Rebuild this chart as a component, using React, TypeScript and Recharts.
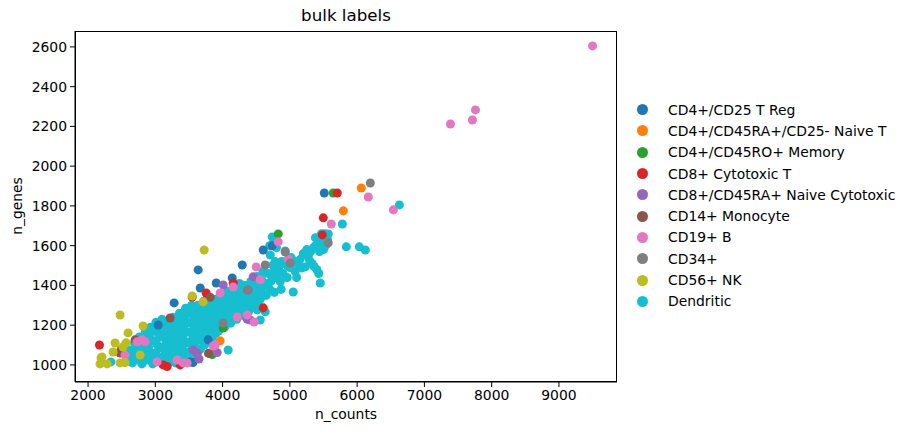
import { ScatterChart, Scatter, XAxis, YAxis } from 'recharts';

const categories = [
  'CD4+/CD25 T Reg',
  'CD4+/CD45RA+/CD25- Naive T',
  'CD4+/CD45RO+ Memory',
  'CD8+ Cytotoxic T',
  'CD8+/CD45RA+ Naive Cytotoxic',
  'CD14+ Monocyte',
  'CD19+ B',
  'CD34+',
  'CD56+ NK',
  'Dendritic',
];

const colors = [
  '#1f77b4', '#ff7f0e', '#2ca02c', '#d62728', '#9467bd',
  '#8c564b', '#e377c2', '#7f7f7f', '#bcbd22', '#17becf',
];

const xTicks = [2000, 3000, 4000, 5000, 6000, 7000, 8000, 9000];
const yTicks = [1000, 1200, 1400, 1600, 1800, 2000, 2200, 2400, 2600];

// [n_counts, n_genes]
const tReg = [
  [5512, 1865], [4604, 1578], [4738, 1599], [4292, 1503], [3637, 1478], [4143, 1437],
  [3905, 1412], [3667, 1387], [3280, 1312], [3042, 1201], [3518, 1015], [3786, 1126],
  [3560, 1012],
];
const naiveT = [[6062, 1890], [5795, 1775], [3964, 1121]];
const memory = [[5645, 1865], [4827, 1659], [3845, 1052], [4009, 1186]];
const cytotoxic = [
  [5705, 1865], [5497, 1740], [5482, 1654], [4604, 1287], [4158, 1412], [3756, 1362],
  [3548, 1342], [2170, 1100], [3116, 1000], [3369, 1000], [3176, 992],
];
const naiveCyto = [
  [4455, 1443], [4009, 1402], [4380, 1377], [4410, 1226], [3920, 1062], [3562, 1075],
  [3622, 1060], [3650, 1030], [4366, 1230],
];
const monocyte = [[2476, 1060], [2700, 1126], [3220, 1236], [3815, 1340], [3790, 1058], [2490, 1075]];
const bCells = [
  [9500, 2605], [7387, 2212], [7714, 2232], [7759, 2283], [6539, 1780], [6166, 1845],
  [5616, 1709], [4827, 1619], [4976, 1533], [4500, 1493], [4560, 1428], [4158, 1392],
  [3964, 1362], [4366, 1251], [4470, 1216], [4217, 1241], [3890, 1100], [2848, 1116],
  [2729, 1116], [2550, 1050], [3027, 1015], [3473, 1010], [3324, 1025], [3414, 1010],
  [3860, 1095], [2803, 1126],
];
const cd34 = [
  [6196, 1915], [5571, 1614], [4931, 1568], [5005, 1513], [4634, 1503], [4366, 1377],
  [4009, 1211],
];
const nk = [
  [3726, 1578], [2476, 1251], [2818, 1196], [2595, 1161], [2402, 1110], [2372, 1065],
  [2208, 1040], [2178, 1005], [2283, 1005], [2550, 1012], [2774, 1050], [2520, 1090],
  [2565, 1111], [3548, 1347], [3711, 1317], [2193, 1035], [2476, 1010],
];
const dendritic = [
  [2340, 1015],
  [2600, 1020], [2610, 1075], [2640, 1040],
  [2660, 1010], [2680, 1050], [2690, 1110], [2700, 1080], [2720, 1125],
  [2730, 1030], [2750, 1085], [2760, 1140], [2780, 1020], [2790, 1105],
  [2800, 1005], [2810, 1060], [2830, 1120], [2850, 1165], [2840, 1040], [2870, 1150],
  [2880, 1025], [2900, 1090], [2910, 1145], [2930, 1190], [2880, 1080], [2920, 1040],
  [2940, 1125], [2950, 1170],
  [2960, 1005], [2970, 1060], [2990, 1120], [3000, 1170], [3010, 1215],
  [3020, 1050], [3030, 1100], [3040, 1160], [3060, 1205],
  [3050, 1030], [3060, 1085], [3070, 1140], [3090, 1190], [3100, 1230],
  [3110, 1040], [3120, 1090], [3140, 1150], [3150, 1200],
  [3130, 1010], [3150, 1060], [3160, 1115], [3170, 1165], [3190, 1215],
  [3200, 1010], [3200, 1070], [3210, 1125], [3220, 1175], [3230, 1225],
  [3220, 1035], [3230, 1090], [3240, 1140], [3250, 1190], [3270, 1240],
  [3280, 1020], [3280, 1070], [3290, 1125], [3300, 1180], [3310, 1235],
  [3300, 1010], [3310, 1060], [3320, 1110], [3330, 1160], [3340, 1210], [3360, 1260],
  [3370, 1010], [3360, 1080], [3370, 1130], [3380, 1180], [3390, 1225],
  [3390, 1040], [3400, 1090], [3410, 1140], [3420, 1190], [3430, 1240], [3450, 1285],
  [3440, 1060], [3450, 1110], [3460, 1165], [3470, 1210], [3480, 1260],
  [3480, 1020], [3490, 1065], [3500, 1115], [3510, 1165], [3520, 1215], [3530, 1265], [3540, 1300],
  [3550, 1030], [3550, 1090], [3560, 1140], [3570, 1185], [3570, 1235], [3590, 1280],
  [3580, 1050], [3590, 1100], [3600, 1150], [3610, 1200], [3620, 1250], [3630, 1300],
  [3640, 1070], [3640, 1125], [3650, 1175], [3660, 1225], [3670, 1270],
  [3670, 1080], [3680, 1130], [3690, 1180], [3700, 1230], [3710, 1280], [3720, 1320],
  [3730, 1100], [3730, 1150], [3740, 1200], [3750, 1250], [3760, 1295],
  [3760, 1110], [3770, 1160], [3780, 1210], [3790, 1260], [3800, 1300], [3810, 1335],
  [3820, 1125], [3820, 1180], [3830, 1230], [3840, 1275], [3850, 1320],
  [3850, 1140], [3860, 1190], [3870, 1240], [3880, 1285], [3890, 1330],
  [3900, 1160], [3910, 1210], [3920, 1250], [3930, 1295],
  [3940, 1170], [3950, 1215], [3960, 1265], [3970, 1310], [3980, 1350],
  [3990, 1190], [4000, 1235], [4010, 1280], [4020, 1320],
  [4030, 1190], [4040, 1240], [4050, 1290], [4060, 1335], [4070, 1370],
  [4080, 1215], [4090, 1260], [4100, 1300], [4110, 1345],
  [4120, 1210], [4130, 1260], [4140, 1310], [4150, 1360], [4160, 1390],
  [4170, 1245], [4180, 1295], [4190, 1340], [4200, 1370],
  [4210, 1230], [4220, 1280], [4230, 1330], [4240, 1380], [4250, 1410],
  [4260, 1260], [4270, 1305], [4280, 1355],
  [4300, 1250], [4310, 1300], [4320, 1350], [4330, 1400],
  [4350, 1280], [4360, 1330], [4370, 1390],
  [4390, 1270], [4400, 1320], [4410, 1370], [4420, 1420],
  [4440, 1300], [4450, 1340], [4460, 1395],
  [4480, 1300], [4490, 1350], [4500, 1400], [4510, 1445],
  [4530, 1320], [4540, 1370], [4550, 1420],
  [4560, 1330], [4570, 1380], [4580, 1430], [4600, 1470],
  [4610, 1350], [4620, 1400],
  [4650, 1350], [4660, 1410], [4680, 1460],
  [4083, 1075], [4515, 1277], [4560, 1226], [4634, 1267],
  [4700, 1380], [4740, 1460], [4780, 1520], [4700, 1600], [4760, 1620], [4800, 1590],
  [4708, 1553], [4738, 1644], [4770, 1365], [4720, 1420], [4750, 1500], [4800, 1440],
  [4820, 1480], [4857, 1418], [4880, 1520], [4900, 1460], [4931, 1573], [4960, 1440],
  [4850, 1500], [4870, 1380], [4920, 1510], [4960, 1500], [5020, 1540], [5060, 1520],
  [5000, 1490], [5050, 1367], [5080, 1470], [5130, 1500], [5180, 1488], [5229, 1493],
  [5100, 1440], [5150, 1530], [5200, 1560], [5250, 1580],
  [5270, 1543], [5300, 1520], [5330, 1510], [5360, 1495], [5400, 1480], [5430, 1460],
  [5452, 1412], [5274, 1553], [5310, 1570], [5350, 1590], [5380, 1600], [5408, 1639],
  [5380, 1640], [5440, 1570], [5500, 1640], [5520, 1660],
  [5420, 1600], [5450, 1620], [5480, 1640], [5500, 1580], [5530, 1600], [5560, 1630],
  [5571, 1659], [5470, 1660], [5780, 1709], [5839, 1594], [6032, 1594], [6122, 1578],
  [6628, 1805],
];

const groups = [tReg, naiveT, memory, cytotoxic, naiveCyto, monocyte, bCells, cd34, nk, dendritic];
const toPoints = (arr: number[][]) => arr.map(([x, y]) => ({ x, y }));

// dendritic drawn first so the other groups sit on top like in the original
const drawOrder = [9, 0, 1, 2, 3, 4, 5, 6, 7, 8];

const font = '"DejaVu Sans", sans-serif';
const tickStyle = { fill: '#000', fontSize: 13.9, fontFamily: font };

function LegendBox() {
  return (
    <div style={{ position: 'absolute', left: 629, top: 99, fontFamily: font, fontSize: 13.9, color: '#000' }}>
      {categories.map((c, i) => (
        <div key={c} style={{ height: 21.3, display: 'flex', alignItems: 'center', whiteSpace: 'nowrap' }}>
          <span
            style={{
              display: 'inline-block', width: 11, height: 11, borderRadius: '50%',
              background: colors[i], marginLeft: 8, marginRight: 20,
            }}
          />
          <span>{c}</span>
        </div>
      ))}
    </div>
  );
}

export default function App() {
  return (
    <div style={{ position: 'absolute', left: 0, top: 0, width: 915, height: 434, background: '#fff' }}>
      <ScatterChart width={915} height={434} margin={{ top: 31, right: 298, bottom: 22, left: 15 }}>
        <XAxis
          type="number" dataKey="x" domain={[1806, 9863]} ticks={xTicks}
          allowDataOverflow height={30} tick={tickStyle} tickSize={5} tickMargin={3}
          stroke="#000" tickLine={{ stroke: '#000' }}
        />
        <YAxis
          type="number" dataKey="y" domain={[914, 2680]} ticks={yTicks}
          allowDataOverflow width={60} tick={tickStyle} tickSize={5} tickMargin={3}
          stroke="#000" tickLine={{ stroke: '#000' }}
        />
        {drawOrder.map((i) => (
          <Scatter
            key={categories[i]}
            name={categories[i]}
            data={toPoints(groups[i])}
            fill={colors[i]}
            isAnimationActive={false}
          />
        ))}
      </ScatterChart>
      <div style={{
        position: 'absolute', left: 75, top: 31, width: 542, height: 351,
        boxSizing: 'border-box', border: '1px solid #000', pointerEvents: 'none',
      }} />
      <LegendBox />
      <div style={{ position: 'absolute', left: 75, width: 542, top: 5, textAlign: 'center', fontFamily: font, fontSize: 16.7 }}>
        bulk labels
      </div>
      <div style={{ position: 'absolute', left: 75, width: 542, top: 406, textAlign: 'center', fontFamily: font, fontSize: 13.9 }}>
        n_counts
      </div>
      <div style={{
        position: 'absolute', left: 17, top: 206, fontFamily: font, fontSize: 13.9,
        transform: 'translate(-50%, -50%) rotate(-90deg)', whiteSpace: 'nowrap',
      }}>
        n_genes
      </div>
    </div>
  );
}
